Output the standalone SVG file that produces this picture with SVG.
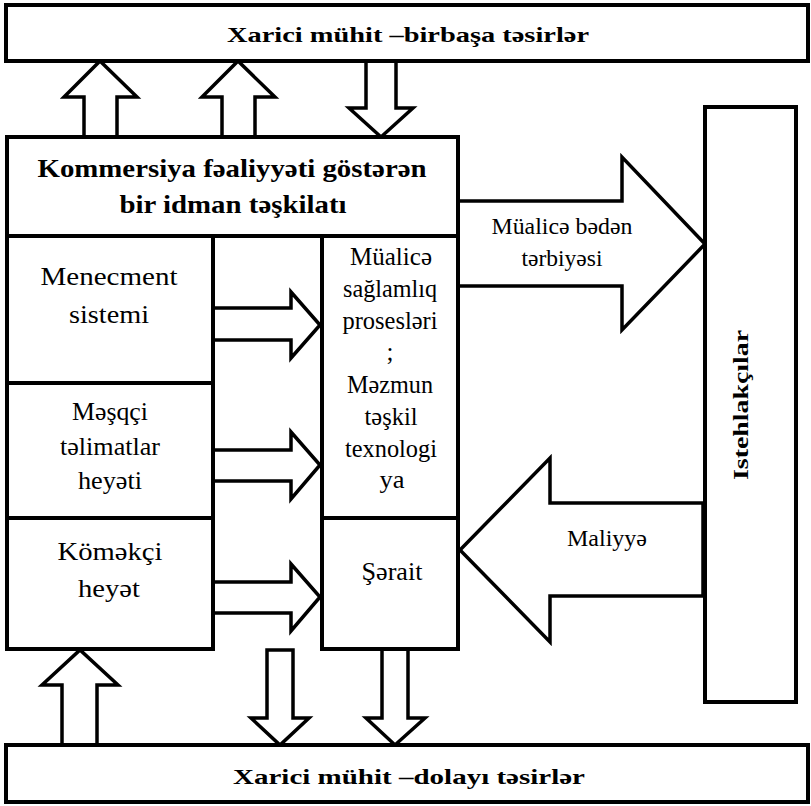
<svg xmlns="http://www.w3.org/2000/svg" width="811" height="806" viewBox="0 0 811 806" font-family="'Liberation Serif', 'DejaVu Serif', serif">
  <style>
    .box { fill: #ffffff; stroke: #000000; stroke-width: 4; }
    .arrow { fill: #ffffff; stroke: #000000; stroke-width: 3.5; stroke-linejoin: miter; }
    text { fill: #000000; text-anchor: middle; }
    .head { font-weight: bold; }
    .t21 { font-size: 21px; }
    .t25 { font-size: 25px; }
    .t26 { font-size: 26px; }
    .t23 { font-size: 23px; }
    .t22 { font-size: 22px; }
  </style>
  <rect width="811" height="806" fill="#ffffff"/>

  <!-- connectors: block arrows -->
  <g id="connectors">
    <!-- organisation -> direct environment -->
    <polygon class="arrow" points="84,137 84,97 64,97 100,61 137,97 117,97 117,137"/>
    <polygon class="arrow" points="222,137 222,97 202,97 238,61 275,97 255,97 255,137"/>
    <!-- direct environment -> organisation -->
    <polygon class="arrow" points="366,61 366,108 349,108 381,137 413,108 396,108 396,61"/>

    <!-- staff blocks -> processes / conditions -->
    <polygon class="arrow" points="213,308 291,308 291,292 320,325 291,358 291,340 213,340"/>
    <polygon class="arrow" points="213,450 291,450 291,432 320,465 291,499 291,481 213,481"/>
    <polygon class="arrow" points="213,582 291,582 291,564 320,597 291,631 291,613 213,613"/>

    <!-- services -> consumers -->
    <polygon class="arrow" points="458,201 622,201 622,157 705,244 622,330 622,286 458,286"/>
    <!-- finance: consumers -> conditions -->
    <polygon class="arrow" points="703,503 550,503 550,458 460,550 550,642 550,596 703,596"/>

    <!-- indirect environment <-> organisation -->
    <polygon class="arrow" points="62,745 62,685 42,685 80,650 118,685 97,685 97,745"/>
    <polygon class="arrow" points="267,650 293,650 293,718 309,718 280,745 251,718 267,718"/>
    <polygon class="arrow" points="382,649 408,649 408,718 425,718 395,745 366,718 382,718"/>
  </g>

  <g id="direct-environment">
    <rect class="box" x="6" y="5" width="802" height="56"/>
    <text class="head t21" x="408" y="42" textLength="362" lengthAdjust="spacingAndGlyphs">Xarici mühit –birbaşa təsirlər</text>
  </g>

  <g id="organisation">
    <rect class="box" x="7" y="137" width="451" height="99"/>
    <text class="head t25" x="232" y="177" textLength="389" lengthAdjust="spacingAndGlyphs">Kommersiya fəaliyyəti göstərən</text>
    <text class="head t25" x="233" y="213" textLength="227" lengthAdjust="spacingAndGlyphs">bir idman təşkilatı</text>
  </g>

  <g id="management">
    <rect class="box" x="7" y="236" width="206" height="147"/>
    <text class="t26" x="109" y="285" textLength="137" lengthAdjust="spacingAndGlyphs">Menecment</text>
    <text class="t26" x="109" y="323" textLength="80" lengthAdjust="spacingAndGlyphs">sistemi</text>
  </g>

  <g id="coaches">
    <rect class="box" x="7" y="383" width="206" height="135"/>
    <text class="t26" x="110" y="420" textLength="76" lengthAdjust="spacingAndGlyphs">Məşqçi</text>
    <text class="t26" x="110" y="455" textLength="100" lengthAdjust="spacingAndGlyphs">təlimatlar</text>
    <text class="t26" x="110" y="489" textLength="64" lengthAdjust="spacingAndGlyphs">heyəti</text>
  </g>

  <g id="support-staff">
    <rect class="box" x="7" y="518" width="206" height="131"/>
    <text class="t26" x="110" y="560" textLength="105" lengthAdjust="spacingAndGlyphs">Köməkçi</text>
    <text class="t26" x="109" y="597" textLength="62" lengthAdjust="spacingAndGlyphs">heyət</text>
  </g>

  <g id="processes">
    <rect class="box" x="322" y="236" width="136" height="282"/>
    <text class="t25" x="391" y="265" textLength="82" lengthAdjust="spacingAndGlyphs">Müalicə</text>
    <text class="t25" x="390" y="297" textLength="94" lengthAdjust="spacingAndGlyphs">sağlamlıq</text>
    <text class="t25" x="390" y="329" textLength="95" lengthAdjust="spacingAndGlyphs">prosesləri</text>
    <text class="t25" x="390" y="360">;</text>
    <text class="t25" x="390" y="393" textLength="86" lengthAdjust="spacingAndGlyphs">Məzmun</text>
    <text class="t25" x="391" y="425" textLength="53" lengthAdjust="spacingAndGlyphs">təşkil</text>
    <text class="t25" x="391" y="457" textLength="92" lengthAdjust="spacingAndGlyphs">texnologi</text>
    <text class="t25" x="392" y="488" textLength="25" lengthAdjust="spacingAndGlyphs">ya</text>
  </g>

  <g id="conditions">
    <rect class="box" x="322" y="518" width="136" height="131"/>
    <text class="t25" x="392" y="580" textLength="61" lengthAdjust="spacingAndGlyphs">Şərait</text>
  </g>

  <g id="consumers">
    <rect class="box" x="705" y="107" width="91" height="595"/>
    <text class="head t22" transform="translate(748,405) rotate(-90)" x="0" y="0" textLength="150" lengthAdjust="spacingAndGlyphs">Istehlakçılar</text>
  </g>

  <g id="arrow-labels">
    <text class="t23" x="562" y="234" textLength="141" lengthAdjust="spacingAndGlyphs">Müalicə bədən</text>
    <text class="t23" x="562" y="266" textLength="81" lengthAdjust="spacingAndGlyphs">tərbiyəsi</text>
    <text class="t23" x="607" y="546" textLength="80" lengthAdjust="spacingAndGlyphs">Maliyyə</text>
  </g>

  <g id="indirect-environment">
    <rect class="box" x="6" y="745" width="802" height="57"/>
    <text class="head t21" x="409" y="784" textLength="352" lengthAdjust="spacingAndGlyphs">Xarici mühit –dolayı təsirlər</text>
  </g>
</svg>
